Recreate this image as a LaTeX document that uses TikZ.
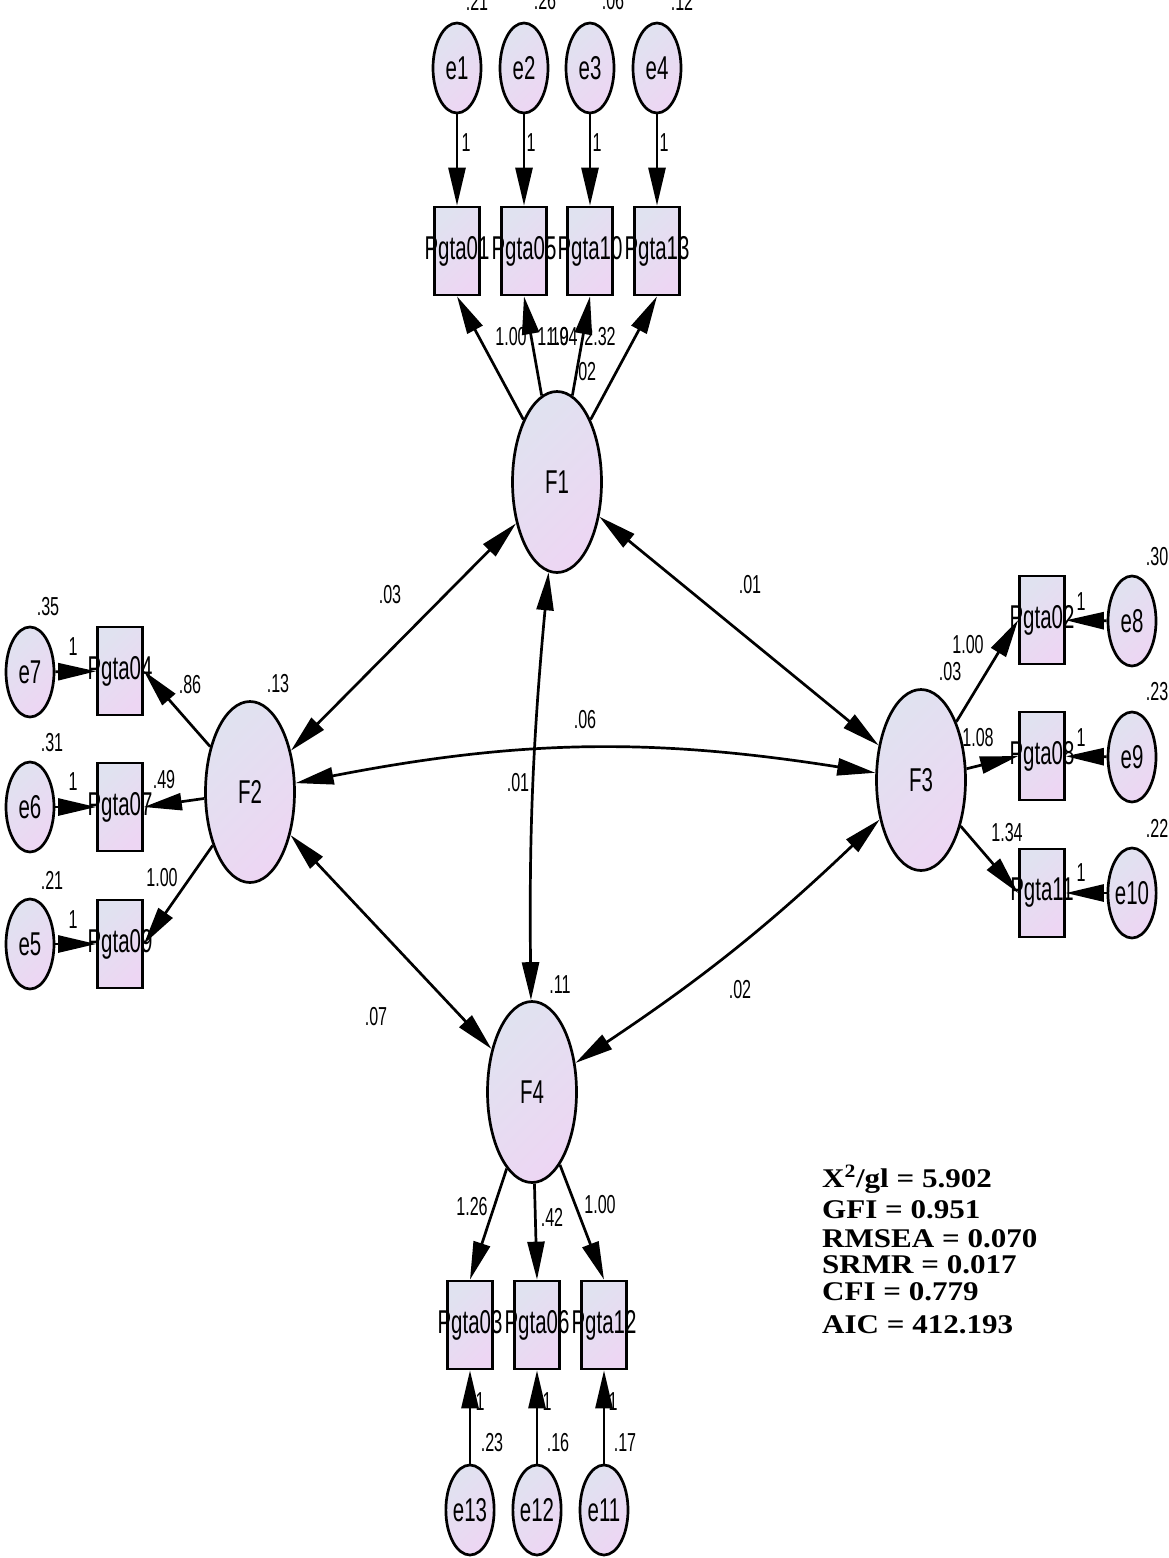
\documentclass[tikz,border=0pt]{standalone}
\usepackage{fontspec}
\setmainfont{Liberation Serif}
\newfontfamily\amosfont[FakeStretch=0.62]{Liberation Sans}
\newfontfamily\fitfont[FakeStretch=1.15]{Liberation Serif}
\usetikzlibrary{arrows.meta,shapes.geometric}
\definecolor{shadeA}{RGB}{224,226,240}
\definecolor{shadeB}{RGB}{237,214,243}
\tikzset{
  latent/.style={ellipse, draw, line width=2.7pt, inner sep=0pt,
    minimum width=89pt, minimum height=181pt,
    top color=shadeA, bottom color=shadeB, shading angle=45,
    font=\amosfont\fontsize{33}{33}\selectfont},
  err/.style={latent, minimum width=48pt, minimum height=90pt},
  obs/.style={rectangle, draw, line width=2.7pt, inner sep=0pt,
    minimum width=45pt, minimum height=88pt,
    top color=shadeA, bottom color=shadeB, shading angle=45,
    label={[font=\amosfont\fontsize{33}{33}\selectfont, inner sep=0pt]center:#1}},
  val/.style={font=\amosfont\fontsize{26}{26}\selectfont, inner sep=0pt},
  load/.style={line width=2.7pt, -{Triangle[length=38pt,width=17pt]}},
  covar/.style={line width=2.7pt, {Triangle[length=38pt,width=17pt]}-{Triangle[length=38pt,width=17pt]}},
  fitstat/.style={font=\fitfont\bfseries\fontsize{27}{27}\selectfont, anchor=base west, inner sep=0pt}
}
\begin{document}
\begin{tikzpicture}[x=1pt, y=-1pt]
\useasboundingbox (0,0) rectangle (1168,1558);

% factors
\node[latent] (f1) at (557,482) {F1};
\node[latent] (f2) at (250,792) {F2};
\node[latent] (f3) at (921,780) {F3};
\node[latent] (f4) at (532,1092) {F4};

% F1 block
\foreach \n/\x in {1/457,2/524,3/590,4/657}
  \node[err] (e\n) at (\x,68) {e\n};
\foreach \n/\x in {01/457,05/524,10/590,13/657}
  \node[obs=Pgta\n] (p\n) at (\x,251) {};
\foreach \a/\b in {e1/p01,e2/p05,e3/p10,e4/p13}
  \draw[load] (\a) -- (\b);
\foreach \b in {p01,p05,p10,p13}
  \draw[load] (f1) -- (\b.south);

% F2 block
\foreach \n/\y in {7/672,6/807,5/944}
  \node[err] (e\n) at (30,\y) {e\n};
\foreach \n/\y in {04/671,07/807,09/944}
  \node[obs=Pgta\n] (p\n) at (120,\y) {};
\foreach \a/\b in {e7/p04,e6/p07,e5/p09}
  \draw[load] (\a) -- (\b);
\foreach \b in {p04,p07,p09}
  \draw[load] (f2) -- (\b.east);

% F3 block
\foreach \n/\y in {8/621,9/757,10/893}
  \node[err] (e\n) at (1132,\y) {e\n};
\foreach \n/\y in {02/620,08/756,11/893}
  \node[obs=Pgta\n] (p\n) at (1042,\y) {};
\foreach \a/\b in {e8/p02,e9/p08,e10/p11}
  \draw[load] (\a) -- (\b);
\foreach \b in {p02,p08,p11}
  \draw[load] (f3) -- (\b.west);

% F4 block
\foreach \n/\x in {13/470,12/537,11/604}
  \node[err] (e\n) at (\x,1510) {e\n};
\foreach \n/\x in {03/470,06/537,12/604}
  \node[obs=Pgta\n] (p\n) at (\x,1325) {};
\foreach \a/\b in {e13/p03,e12/p06,e11/p12}
  \draw[load] (\a) -- (\b);
\foreach \b in {p03,p06,p12}
  \draw[load] (f4) -- (\b.north);

% covariances
\draw[covar] (f1) -- (f2);
\draw[covar] (f1) -- (f3);
\draw[covar] (f2) to[bend left=10] (f3);
\draw[covar] (f1) to[bend right=3] (f4);
\draw[covar] (f2) -- (f4);
\draw[covar] (f3) to[bend left=5] (f4);

% estimates
\foreach \i/\x/\y/\t in {
  1/477/1/.21, 2/545/1/.26, 3/613/1/.06, 4/682/1/.12,
  5/466/143/1, 6/531/143/1, 7/597/143/1, 8/664/143/1,
  9/511/337/1.00, 10/553/337/1.19, 11/562/337/1.04, 12/600/337/2.32, 13/585/372/.02,
  14/48/607/.35, 15/52/743/.31, 16/52/880/.21,
  17/73/647/1, 18/73/782/1, 19/73/920/1,
  20/190/685/.86, 21/164/780/.49, 22/162/878/1.00, 23/278/684/.13,
  24/1157/557/.30, 25/1157/692/.23, 26/1157/828/.22,
  27/1081/602/1, 28/1081/738/1, 29/1081/873/1,
  30/968/645/1.00, 31/950/672/.03, 32/978/738/1.08, 33/1007/833/1.34,
  34/390/595/.03, 35/750/585/.01, 36/585/720/.06, 37/518/783/.01,
  38/376/1017/.07, 39/740/990/.02, 40/560/985/.11,
  41/472/1207/1.26, 42/552/1217/.42, 43/600/1205/1.00,
  44/480/1402/1, 45/547/1402/1, 46/613/1402/1,
  47/492/1443/.23, 48/558/1443/.16, 49/625/1443/.17}
  \node[val] (v\i) at (\x,\y) {\t};

% fit indices
\node[fitstat] (fit1) at (822,1187) {X\textsuperscript{2}/gl = 5.902};
\foreach \i/\y/\t in {2/1218/GFI = 0.951, 3/1247/RMSEA = 0.070,
  4/1273/SRMR = 0.017, 5/1300/CFI = 0.779, 6/1333/AIC = 412.193}
  \node[fitstat] (fit\i) at (822,\y) {\t};
\end{tikzpicture}
\end{document}
